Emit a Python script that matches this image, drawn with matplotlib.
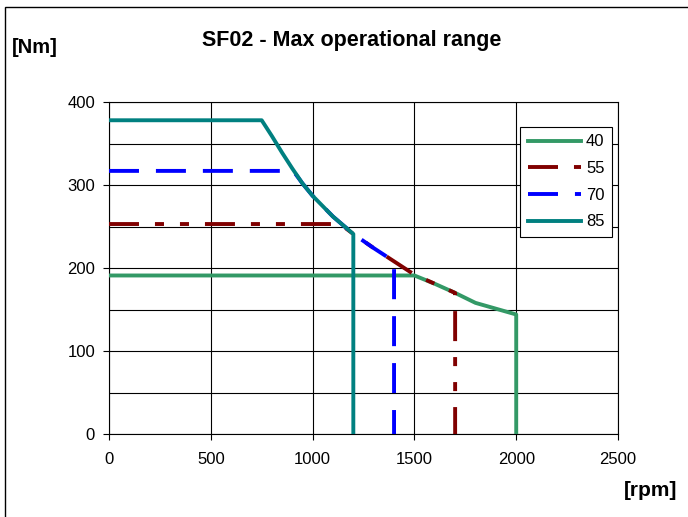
import matplotlib
matplotlib.use("Agg")
import matplotlib.pyplot as plt
from matplotlib.patches import Rectangle

plt.rcParams['font.family'] = ['Liberation Sans', 'DejaVu Sans']
plt.rcParams['lines.scale_dashes'] = False

# curves (rpm, Nm)
rpm_40 = [0, 1500, 1600, 1700, 1800, 2000, 2000]
nm_40 = [191, 191, 181, 170, 158, 144, 0]

rpm_55 = [0, 1135, 1200, 1300, 1400, 1500, 1600, 1700, 1700]
nm_55 = [253, 253, 241, 224, 208, 192, 181, 170, 0]

rpm_70 = [0, 905, 950, 1000, 1100, 1200, 1300, 1400, 1400]
nm_70 = [317, 317, 302, 287, 262, 241, 224, 208, 0]

rpm_85 = [0, 750, 800, 850, 900, 950, 1000, 1100, 1200, 1200]
nm_85 = [378, 378, 359, 339, 320, 302, 287, 262, 241, 0]

labels = ['40', '55', '70', '85']

fig = plt.figure(figsize=(6.88, 5.17), dpi=100)
ax = fig.add_axes([0.1584, 0.1605, 0.7399, 0.6422])

lw = 2.8
ax.plot(rpm_40, nm_40, color='#339966', lw=lw, label=labels[0], zorder=3)
ax.plot(rpm_55, nm_55, color='#800000', lw=lw, label=labels[1], zorder=4,
        dashes=(21.6, 11.5, 6.5, 11.5, 6.5, 11.5))
ax.plot(rpm_70, nm_70, color='#0000FF', lw=lw, label=labels[2], zorder=5,
        dashes=(21.6, 12.2))
ax.plot(rpm_85, nm_85, color='#008080', lw=lw, label=labels[3], zorder=6)

ax.set_xlim(0, 2500)
ax.set_ylim(0, 400)
ax.set_xticks(range(0, 2501, 500))
ax.set_yticks(range(0, 401, 100))
ax.set_yticks(range(50, 400, 100), minor=True)
ax.tick_params(axis='y', which='minor', length=0)
ax.tick_params(which='major', direction='out', length=4, width=0.8,
               labelsize=12, colors='black')
ax.tick_params(axis='x', pad=9)
ax.tick_params(axis='y', pad=6)
ax.grid(True, which='both', color='black', lw=0.8)
ax.set_axisbelow(True)
for s in ax.spines.values():
    s.set_linewidth(0.8)
    s.set_color('black')

leg = ax.legend(loc='upper right', bbox_to_anchor=(0.988, 0.925), fontsize=12,
                labelspacing=0.7, handlelength=3.2, handletextpad=0.3,
                borderpad=0.45, borderaxespad=0, fancybox=False, framealpha=1)
leg.get_frame().set_edgecolor('black')
leg.get_frame().set_linewidth(0.8)

fig.text(0.5116, 0.9226, 'SF02 - Max operational range', ha='center', va='center',
         fontsize=15.5, fontweight='bold')
fig.text(0.0174, 0.909, '[Nm]', ha='left', va='center', fontsize=14.5, fontweight='bold')
fig.text(0.984, 0.052, '[rpm]', ha='right', va='center', fontsize=15, fontweight='bold')

# outer chart frame
fig.patches.append(Rectangle((5 / 688, -0.1), 1.2, 1 - 7 / 517 + 0.1,
                             transform=fig.transFigure, fill=False,
                             edgecolor='black', lw=1))

fig.savefig('out.png', dpi=100)
